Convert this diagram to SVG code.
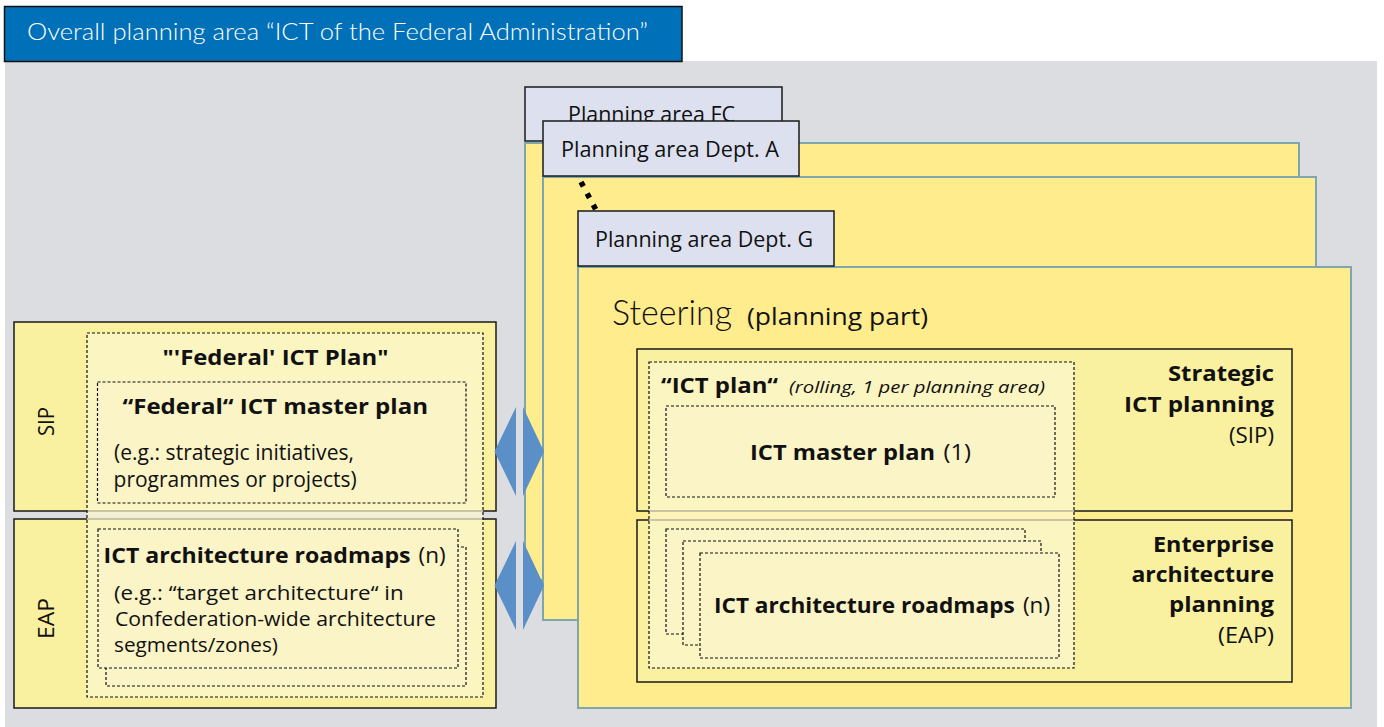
<svg xmlns="http://www.w3.org/2000/svg" width="1384" height="727" viewBox="0 0 1384 727">
<style>
text{font-family:"Open Sans","Noto Sans",sans-serif;fill:#111}
.lt{font-family:Lato,"Open Sans",sans-serif;font-weight:300}
.b{font-weight:bold}
.panel{fill:#ffec8c;stroke:#7fa6ac;stroke-width:2}
.tab{fill:#dde1ef;stroke:#1a1a1a;stroke-width:1.5}
.box{fill:#f9f0a0;stroke:#1a1a1a;stroke-width:1.5}
.dash{fill:#faf4c6;stroke:#111;stroke-width:1.2;stroke-dasharray:3 2}
.dasht{fill:#fcf7cf;fill-opacity:.7;stroke:#111;stroke-width:1.2;stroke-dasharray:3 2}
.arr{fill:#5b8fc8}
</style>
<rect x="5" y="61" width="1372" height="666" fill="#dcdde0"/>
<g id="title">
<rect x="4.5" y="6.5" width="677.5" height="55" fill="#0070b9" stroke="#111" stroke-width="1.5"/>
<text class="lt" x="27" y="40" font-size="23" style="fill:#fff" textLength="621" lengthAdjust="spacingAndGlyphs">Overall planning area “ICT of the Federal Administration”</text>
</g>
<g id="area-fc">
<rect class="panel" x="525" y="143" width="774" height="437"/>
<rect class="tab" x="525" y="87" width="257" height="54"/>
<text x="568" y="122" font-size="21" textLength="167" lengthAdjust="spacingAndGlyphs">Planning area FC</text>
</g>
<g id="area-dept-a">
<rect class="panel" x="543" y="177" width="773" height="443"/>
<rect class="tab" x="543" y="121" width="256" height="55"/>
<text x="561" y="157" font-size="21" textLength="218" lengthAdjust="spacingAndGlyphs">Planning area Dept. A</text>
</g>
<g id="area-dept-g">
<rect class="panel" x="578" y="267" width="773" height="441"/>
<rect class="tab" x="578" y="211" width="256" height="55"/>
<text x="595" y="247" font-size="21" textLength="218" lengthAdjust="spacingAndGlyphs">Planning area Dept. G</text>
<text class="lt" x="612" y="325" font-size="35" textLength="120" lengthAdjust="spacingAndGlyphs">Steering</text>
<text x="747" y="325" font-size="24" textLength="181" lengthAdjust="spacingAndGlyphs">(planning part)</text>
</g>
<g id="right-sip">
<rect class="box" x="637" y="349" width="655" height="162"/>
<text class="b" x="1274" y="381" font-size="22" text-anchor="end" textLength="106" lengthAdjust="spacingAndGlyphs">Strategic</text>
<text class="b" x="1274" y="412" font-size="22" text-anchor="end" textLength="150" lengthAdjust="spacingAndGlyphs">ICT planning</text>
<text x="1274" y="443" font-size="21" text-anchor="end" textLength="45" lengthAdjust="spacingAndGlyphs">(SIP)</text>
</g>
<g id="right-eap">
<rect class="box" x="637" y="520" width="655" height="162"/>
<text class="b" x="1274" y="552" font-size="22" text-anchor="end" textLength="121" lengthAdjust="spacingAndGlyphs">Enterprise</text>
<text class="b" x="1274" y="582" font-size="22" text-anchor="end" textLength="142.5" lengthAdjust="spacingAndGlyphs">architecture</text>
<text class="b" x="1274" y="612" font-size="22" text-anchor="end" textLength="105" lengthAdjust="spacingAndGlyphs">planning</text>
<text x="1274" y="643" font-size="21" text-anchor="end" textLength="56" lengthAdjust="spacingAndGlyphs">(EAP)</text>
</g>
<g id="ict-plan">
<rect class="dasht" x="649" y="362" width="425" height="306"/>
<text class="b" x="661" y="393" font-size="22" textLength="117" lengthAdjust="spacingAndGlyphs">“ICT plan“</text>
<text x="789" y="393" font-size="17" font-style="italic" textLength="256" lengthAdjust="spacingAndGlyphs">(rolling, 1 per planning area)</text>
</g>
<g id="ict-master-plan">
<rect class="dash" x="666" y="406" width="389" height="91"/>
<text class="b" x="750" y="460" font-size="22" textLength="185" lengthAdjust="spacingAndGlyphs">ICT master plan</text>
<text x="943.6" y="460" font-size="22" textLength="27.4" lengthAdjust="spacingAndGlyphs">(1)</text>
</g>
<g id="ict-roadmaps">
<rect class="dash" x="666" y="529" width="359" height="105"/>
<rect class="dash" x="683" y="541" width="358" height="104"/>
<rect class="dash" x="700" y="553" width="359" height="105"/>
<text class="b" x="714" y="613" font-size="22" textLength="300.7" lengthAdjust="spacingAndGlyphs">ICT architecture roadmaps</text>
<text x="1023" y="613" font-size="22" textLength="27" lengthAdjust="spacingAndGlyphs">(n)</text>
</g>
<g id="left-sip">
<rect class="box" x="14" y="322" width="482" height="189"/>
<text transform="translate(54,421.5) rotate(-90)" font-size="22" text-anchor="middle" textLength="29" lengthAdjust="spacingAndGlyphs">SIP</text>
</g>
<g id="left-eap">
<rect class="box" x="14" y="519" width="482" height="189"/>
<text transform="translate(54,618.5) rotate(-90)" font-size="22" text-anchor="middle" textLength="41" lengthAdjust="spacingAndGlyphs">EAP</text>
</g>
<g id="federal-ict-plan">
<rect class="dasht" x="87" y="333" width="396" height="364"/>
<text class="b" x="162.5" y="365" font-size="21" textLength="226" lengthAdjust="spacingAndGlyphs">"'Federal' ICT Plan"</text>
</g>
<g id="federal-master-plan">
<rect class="dash" x="97.5" y="382" width="368.5" height="121"/>
<text class="b" x="122.5" y="414" font-size="22" textLength="305.5" lengthAdjust="spacingAndGlyphs">“Federal“ ICT master plan</text>
<text x="114" y="460" font-size="21" textLength="240" lengthAdjust="spacingAndGlyphs">(e.g.: strategic initiatives,</text>
<text x="113.6" y="487" font-size="21" textLength="243" lengthAdjust="spacingAndGlyphs">programmes or projects)</text>
</g>
<g id="federal-roadmaps">
<rect class="dash" x="106" y="547" width="360" height="139"/>
<rect class="dash" x="98" y="529" width="360" height="139"/>
<text class="b" x="103.6" y="563" font-size="22" textLength="307" lengthAdjust="spacingAndGlyphs">ICT architecture roadmaps</text>
<text x="418.6" y="563" font-size="22" textLength="27" lengthAdjust="spacingAndGlyphs">(n)</text>
<text x="114" y="600" font-size="20" textLength="289.6" lengthAdjust="spacingAndGlyphs">(e.g.: “target architecture“ in</text>
<text x="115" y="626" font-size="20" textLength="321" lengthAdjust="spacingAndGlyphs">Confederation-wide architecture</text>
<text x="114" y="652" font-size="20" textLength="164" lengthAdjust="spacingAndGlyphs">segments/zones)</text>
</g>
<g id="connectors">
<line x1="581" y1="182" x2="596" y2="210" stroke="#000" stroke-width="5.5" stroke-dasharray="5 8"/>
<polygon class="arr" points="516,407 516,496 494.5,451.5"/>
<polygon class="arr" points="523,407 523,496 544,451.5"/>
<polygon class="arr" points="516,541 516,630 494.5,585.5"/>
<polygon class="arr" points="523,541 523,630 544,585.5"/>
</g>
</svg>
